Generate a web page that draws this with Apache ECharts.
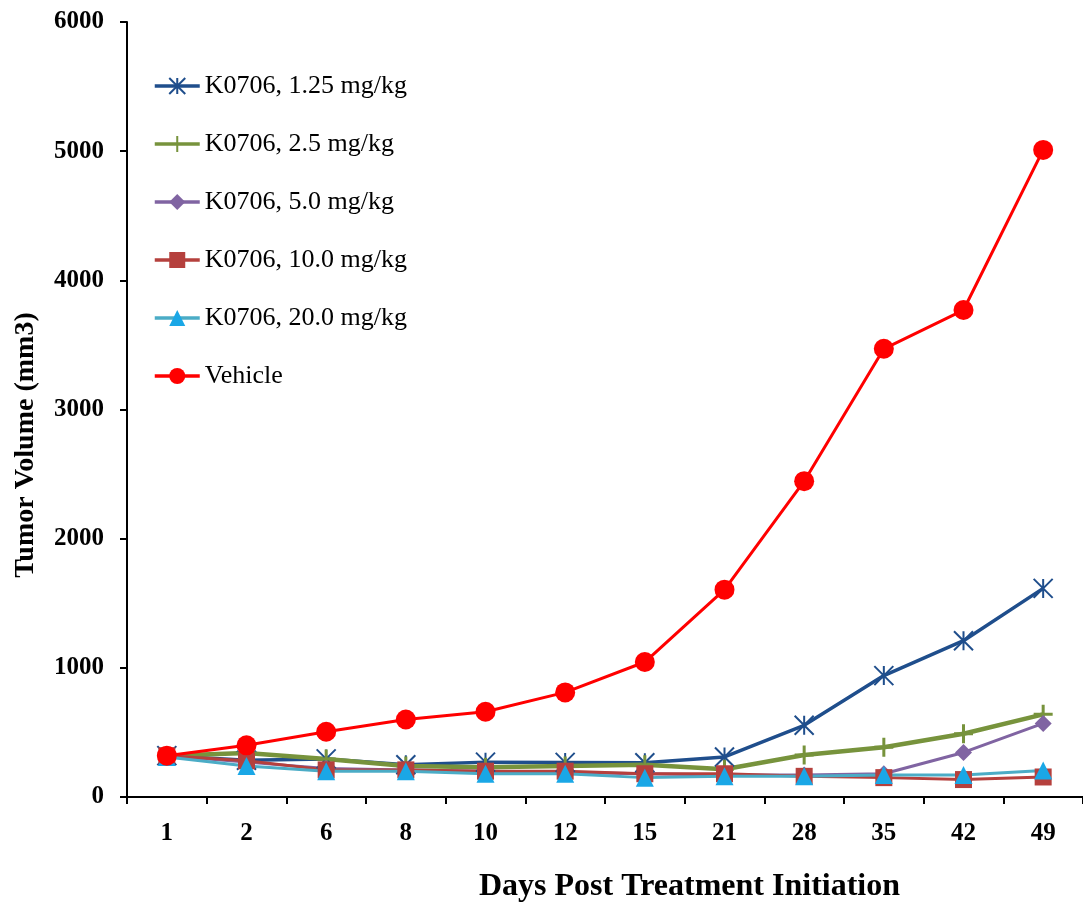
<!DOCTYPE html>
<html>
<head>
  <meta charset="UTF-8">
  <title>Tumor Volume</title>
  <script src="https://cdn.jsdelivr.net/npm/echarts@6/dist/echarts.min.js"></script>
  <style>
    html, body { margin: 0; padding: 0; background: #fff; }
    #main { width: 1083px; height: 903px; }
  </style>
</head>
<body>
<div id="main"></div>
<script>
  // days on the x axis
  var days = ['1', '2', '6', '8', '10', '12', '15', '21', '28', '35', '42', '49'];

  // tumor volume (mm3)
  var dose125 = [320, 285, 295, 250, 270, 268, 265, 310, 555, 940, 1210, 1615];
  var dose25  = [320, 340, 295, 240, 230, 240, 250, 215, 325, 385, 490, 640];
  var dose50  = [320, 270, 220, 210, 200, 190, 180, 170, 170, 180, 345, 570];
  var dose100 = [320, 280, 210, 210, 200, 200, 180, 180, 160, 150, 135, 155];
  var dose200 = [310, 240, 200, 200, 180, 180, 150, 160, 160, 170, 170, 205];
  var vehicle = [320, 400, 505, 600, 660, 810, 1045, 1605, 2445, 3470, 3770, 5010];

  var serif = '"Liberation Serif", "DejaVu Serif", serif';
  var starPath = 'path://M0,0 L10,10 M10,0 L0,10 M5,0 L5,10';
  var plusPath = 'path://M5,0 L5,10 M0,5 L10,5';

  function mkLine(name, data, color, symbol, size, width, extra) {
    var s = {
      name: name,
      type: 'line',
      data: data,
      symbol: symbol,
      symbolSize: size,
      lineStyle: { color: color, width: width },
      itemStyle: { color: color },
      animation: false
    };
    if (extra) {
      for (var k in extra) s[k] = extra[k];
    }
    return s;
  }

  var chart = echarts.init(document.getElementById('main'));
  var option = {
    backgroundColor: '#ffffff',
    title: {
      text: 'Days Post Treatment Initiation',
      left: 474,
      top: 866,
      textStyle: { fontFamily: serif, fontWeight: 'bold', fontSize: 32, color: '#000' }
    },
    graphic: [{
      type: 'text',
      x: 12,
      y: 445,
      rotation: Math.PI / 2,
      style: {
        text: 'Tumor Volume (mm3)',
        font: 'bold 28px ' + serif,
        fill: '#000',
        align: 'center',
        verticalAlign: 'top'
      }
    }],
    legend: {
      orient: 'vertical',
      left: 153,
      top: 72,
      padding: 0,
      itemWidth: 45,
      itemHeight: 20,
      itemGap: 30,
      lineStyle: { width: 3.5 },
      textStyle: { fontFamily: serif, fontSize: 26, color: '#000', lineHeight: 28 },
      data: ['K0706, 1.25 mg/kg', 'K0706, 2.5 mg/kg', 'K0706, 5.0 mg/kg',
             'K0706, 10.0 mg/kg', 'K0706, 20.0 mg/kg', 'Vehicle']
    },
    grid: { left: 127, top: 22, bottom: 106, right: -2 },
    xAxis: {
      type: 'category',
      data: days,
      axisLine: { lineStyle: { color: '#000', width: 2 } },
      axisTick: { show: true, length: 7, lineStyle: { color: '#000', width: 2 } },
      axisLabel: { fontFamily: serif, fontWeight: 'bold', fontSize: 25, color: '#000', margin: 24 },
      splitLine: { show: false }
    },
    yAxis: {
      type: 'value',
      min: 0,
      max: 6000,
      interval: 1000,
      axisLine: { show: true, lineStyle: { color: '#000', width: 2 } },
      axisTick: { show: true, length: 7, lineStyle: { color: '#000', width: 2 } },
      axisLabel: {
        fontFamily: serif, fontWeight: 'bold', fontSize: 25, color: '#000', margin: 23,
        formatter: function (v) { return String(v); }
      },
      splitLine: { show: false }
    },
    series: [
      mkLine('K0706, 1.25 mg/kg', dose125, '#1F4E8C', starPath, 19, 3.5,
        { itemStyle: { color: '#1F4E8C', borderColor: '#1F4E8C', borderWidth: 2 } }),
      mkLine('K0706, 2.5 mg/kg', dose25, '#77933C', plusPath, 19, 4.5,
        { itemStyle: { color: '#77933C', borderColor: '#77933C', borderWidth: 3 } }),
      mkLine('K0706, 5.0 mg/kg', dose50, '#8064A2', 'diamond', 17, 3),
      mkLine('K0706, 10.0 mg/kg', dose100, '#B5403D', 'rect', 17, 3),
      mkLine('K0706, 20.0 mg/kg', dose200, '#4BACC6', 'triangle', 18, 3,
        { itemStyle: { color: '#1AA7E6' } }),
      mkLine('Vehicle', vehicle, '#FF0000', 'circle', 20, 3)
    ]
  };
  chart.setOption(option);
</script>
</body>
</html>
